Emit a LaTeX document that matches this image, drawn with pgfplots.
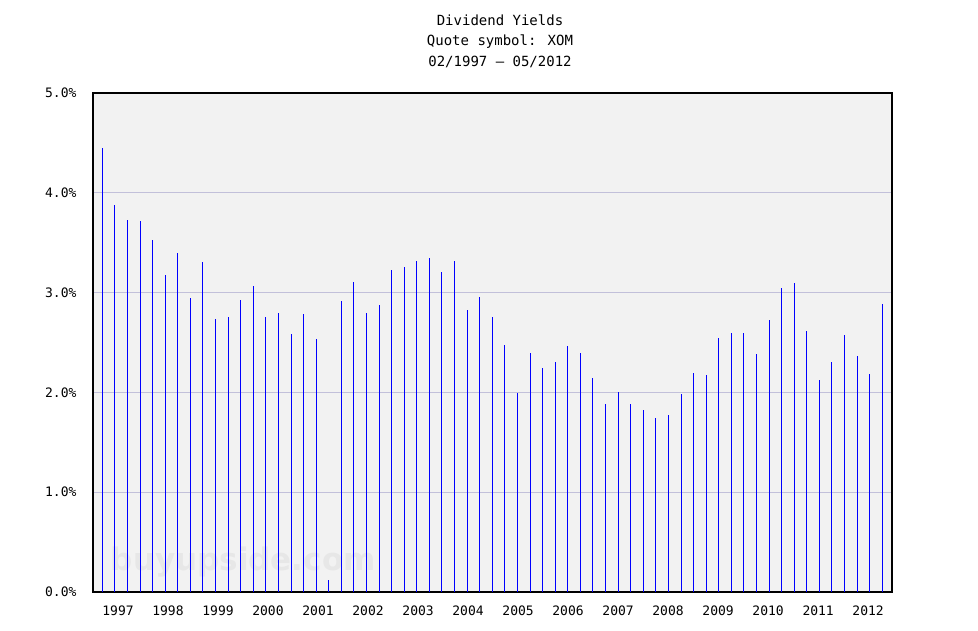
\documentclass[border=0pt]{standalone}
\usepackage{fontspec}
\setmainfont{DejaVu Sans Mono}
\newfontfamily\wmfont{DejaVu Sans}
\usepackage{pgfplots}
\pgfplotsset{compat=1.18}
\usepackage{pgfplotstable}
\definecolor{bgc}{HTML}{F2F2F2}
\definecolor{gridc}{HTML}{C2C0DA}
\definecolor{wmc}{HTML}{E7E7E7}
\definecolor{barc}{HTML}{0000FF}
\pgfplotstableread{
i y
0 4.45
1 3.88
2 3.73
3 3.72
4 3.53
5 3.18
6 3.40
7 2.95
8 3.31
9 2.74
10 2.76
11 2.93
12 3.07
13 2.76
14 2.80
15 2.59
16 2.79
17 2.54
18 0.12
19 2.92
20 3.11
21 2.80
22 2.88
23 3.23
24 3.26
25 3.32
26 3.35
27 3.21
28 3.32
29 2.83
30 2.96
31 2.76
32 2.47
33 1.99
34 2.39
35 2.24
36 2.30
37 2.46
38 2.39
39 2.14
40 1.88
41 2.00
42 1.88
43 1.82
44 1.74
45 1.77
46 1.98
47 2.19
48 2.17
49 2.55
50 2.60
51 2.60
52 2.38
53 2.73
54 3.05
55 3.10
56 2.62
57 2.12
58 2.30
59 2.58
60 2.36
61 2.18
62 2.89
}\datatable
\begin{document}
\begin{tikzpicture}[x=1pt,y=1pt]
\path[use as bounding box] (0,0) rectangle (978,630);
\begin{axis}[
  at={(93pt,38pt)}, anchor=south west,
  width=799pt, height=499pt, scale only axis,
  xmin=-0.74, xmax=62.77, ymin=0, ymax=5,
  axis background/.style={fill=bgc},
  axis line style={line width=1.2pt},
  ytick={0,1,2,3,4,5},
  yticklabels={0.0\%,1.0\%,2.0\%,3.0\%,4.0\%,5.0\%},
  ymajorgrids,
  grid style={gridc, line width=1pt},
  xtick={1.25,5.22,9.20,13.17,17.15,21.12,25.10,29.07,33.05,37.02,41.00,44.97,48.95,52.92,56.90,60.87},
  xticklabels={1997,1998,1999,2000,2001,2002,2003,2004,2005,2006,2007,2008,2009,2010,2011,2012},
  major tick length=0pt,
  tick label style={font=\fontsize{13}{13}\selectfont},
  yticklabel style={xshift=-13pt},
  xticklabel style={yshift=-10pt},
  clip=false,
]
\node[anchor=base, text=wmc, font=\wmfont\bfseries\fontsize{31}{31}\selectfont] at (axis cs:11.2,0.22) {buyupside.com};
\addplot[ycomb, draw=barc, line width=1pt, mark=none] table[x=i, y=y] {\datatable};
\end{axis}
\node[align=center, font=\fontsize{14}{20.5}\selectfont] at (500,589) {Dividend Yields\\Quote symbol: XOM\\02/1997 -- 05/2012};
\end{tikzpicture}
\end{document}
